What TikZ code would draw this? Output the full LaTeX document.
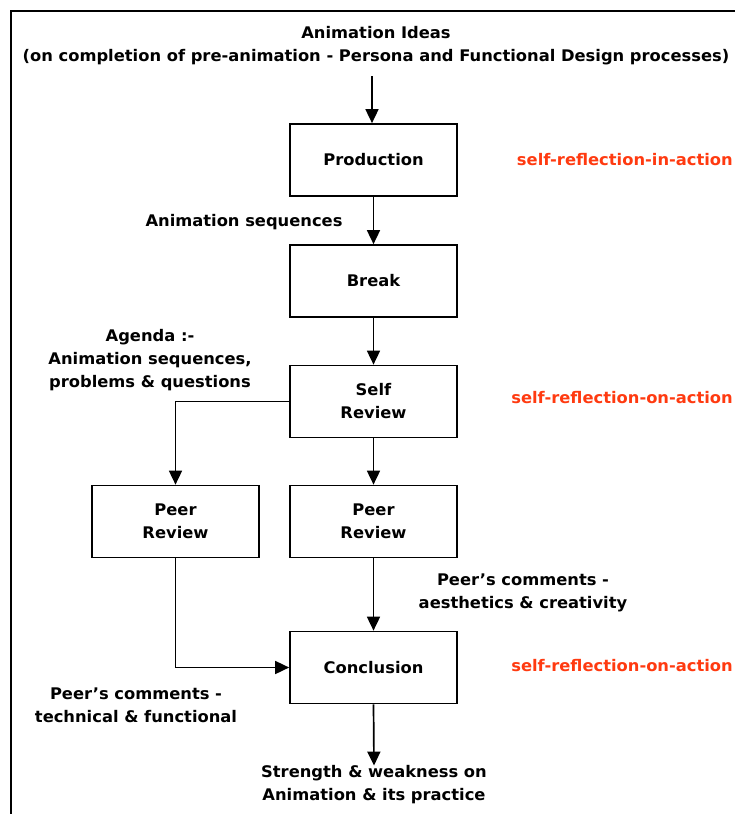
\documentclass[tikz,border=0pt]{standalone}
\usepackage{fontspec}
\setmainfont{DejaVu Sans}[FakeStretch=1.02]
\usetikzlibrary{arrows.meta}
\definecolor{reflect}{HTML}{FF3A10}
\begin{document}
\begin{tikzpicture}[x=1pt,y=-1pt,
  every node/.style={font=\bfseries\fontsize{16}{23}\selectfont, inner sep=0pt, align=center},
  stage/.style={draw, line width=1.7pt, minimum width=167pt, minimum height=72pt},
  flow/.style={line width=1.7pt, -{Triangle[width=13pt,length=14pt]}},
  note/.style={text=reflect}]
  \useasboundingbox (0,0) rectangle (735,814);
  % frame
  \draw[line width=2pt] (11,814) -- (11,11) -- (735,11);

  % headline
  \node (idea) at (376,46) {Animation Ideas\\(on completion of pre-animation - Persona and Functional Design processes)};
  \coordinate (ideaend) at (372,76);

  % main stages
  \node[stage] (prod) at (373.5,160) {Production};
  \node[stage] (brk)  at (373.5,281) {Break};
  \node[stage] (self) at (373.5,401.5) {Self\\Review};
  \node[stage] (peerL) at (175.5,521.5) {Peer\\Review};
  \node[stage] (peerM) at (373.5,521.5) {Peer\\Review};
  \node[stage] (concl) at (373.5,667.5) {Conclusion};
  \node (result) at (374,785) {Strength \& weakness on\\Animation \& its practice};

  % reflection labels
  \node[note, anchor=east] (r1) at (733,160) {self-reflection-in-action};
  \node[note, anchor=east] (r2) at (733,398) {self-reflection-on-action};
  \node[note, anchor=east] (r3) at (733,666) {self-reflection-on-action};

  % side labels
  \node (seq) at (244,222) {Animation sequences};
  \node (agenda) at (150,360) {Agenda :-\\Animation sequences,\\problems \& questions};
  \node (cmtM) at (523,593) {Peer's comments -\\aesthetics \& creativity};
  \node (cmtL) at (136,705) {Peer's comments -\\technical \& functional};

  % connectors
  \draw[flow] (ideaend) -- (prod.north -| ideaend);
  \draw[flow] (prod) -- (brk);
  \draw[flow] (brk) -- (self);
  \draw[flow] (self) -- (peerM);
  \draw[flow] (peerM) -- (concl);
  \draw[flow] (concl.south) -- (result.north);
  \draw[flow] (self.west) -| (peerL.north);
  \draw[flow] (peerL.south) |- (concl.west);
\end{tikzpicture}
\end{document}
